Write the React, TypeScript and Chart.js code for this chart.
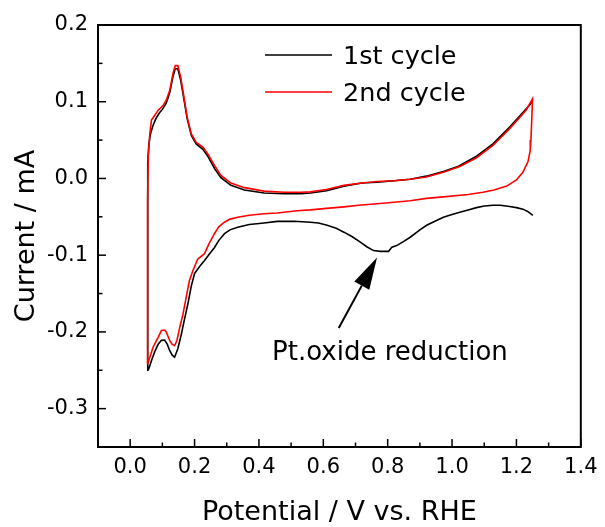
import React, { useEffect, useRef } from "react";
import { Chart, registerables } from "chart.js";

Chart.register(...registerables);

// 1st cycle: cathodic sweep from 1.25 V down to 0.05 V, then anodic sweep back up
const cycle1Potential = [
  1.251, 1.235, 1.22, 1.2, 1.179, 1.15, 1.127, 1.1, 1.076, 1.05,
  1.024, 1.0, 0.973, 0.95, 0.921, 0.9, 0.87, 0.85, 0.828, 0.813,
  0.803, 0.79, 0.777, 0.756, 0.735, 0.715, 0.69, 0.664, 0.64, 0.612,
  0.585, 0.56, 0.509, 0.457, 0.416, 0.37, 0.334, 0.31, 0.293, 0.275,
  0.262, 0.245, 0.231, 0.215, 0.2, 0.19, 0.179, 0.168, 0.159, 0.148,
  0.138, 0.13, 0.123, 0.115, 0.107, 0.097, 0.087, 0.076, 0.066, 0.058,
  0.055,
  0.054, 0.055, 0.058, 0.063, 0.07, 0.08, 0.09, 0.1, 0.112, 0.123,
  0.133, 0.14, 0.148, 0.157, 0.167, 0.177, 0.19, 0.205, 0.226, 0.241,
  0.262, 0.282, 0.313, 0.355, 0.416, 0.478, 0.53, 0.56, 0.61, 0.664,
  0.72, 0.767, 0.82, 0.87, 0.92, 0.973, 1.02, 1.076, 1.127, 1.179,
  1.22, 1.25,
];
const cycle1Current = [
  -0.048, -0.043, -0.04, -0.038, -0.0365, -0.035, -0.035, -0.036, -0.038, -0.041,
  -0.044, -0.047, -0.0505, -0.055, -0.061, -0.067, -0.0766, -0.082, -0.0875, -0.0895,
  -0.095, -0.095, -0.095, -0.094, -0.089, -0.083, -0.076, -0.07, -0.065, -0.061,
  -0.058, -0.057, -0.0557, -0.056, -0.058, -0.06, -0.0635, -0.067, -0.072, -0.081,
  -0.09, -0.099, -0.107, -0.115, -0.124, -0.14, -0.164, -0.185, -0.203, -0.222,
  -0.233, -0.23, -0.2245, -0.216, -0.2106, -0.211, -0.216, -0.226, -0.2375, -0.248,
  -0.25,
  -0.03, 0.02, 0.045, 0.058, 0.068, 0.078, 0.085, 0.09, 0.098, 0.112,
  0.133, 0.143, 0.143, 0.128, 0.103, 0.078, 0.056, 0.045, 0.038, 0.029,
  0.013, 0.001, -0.009, -0.015, -0.019, -0.02, -0.02, -0.019, -0.016, -0.01,
  -0.006, -0.005, -0.003, -0.001, 0.003, 0.009, 0.016, 0.029, 0.045, 0.067,
  0.086, 0.1,
];

// 2nd cycle: anodic sweep from 0.05 V up to 1.25 V, then cathodic sweep back down
const cycle2Potential = [
  0.054, 0.054, 0.056, 0.061, 0.066, 0.076, 0.087, 0.102, 0.112, 0.123,
  0.133, 0.14, 0.148, 0.157, 0.167, 0.177, 0.19, 0.205, 0.226, 0.241,
  0.262, 0.282, 0.313, 0.355, 0.416, 0.478, 0.53, 0.56, 0.61, 0.664,
  0.72, 0.767, 0.82, 0.87, 0.92, 0.973, 1.024, 1.076, 1.127, 1.179,
  1.23, 1.25,
  1.248, 1.245, 1.243, 1.236, 1.22, 1.2, 1.17, 1.13, 1.096, 1.05,
  0.973, 0.92, 0.87, 0.82, 0.767, 0.71, 0.664, 0.61, 0.56, 0.519,
  0.457, 0.416, 0.37, 0.334, 0.31, 0.293, 0.275, 0.262, 0.245, 0.231,
  0.21, 0.195, 0.184, 0.174, 0.164, 0.154, 0.145, 0.138, 0.13, 0.123,
  0.112, 0.107, 0.097, 0.087, 0.071, 0.061, 0.056, 0.053,
];
const cycle2Current = [
  -0.242, -0.03, 0.028, 0.058, 0.076, 0.082, 0.089, 0.095, 0.102, 0.115,
  0.137, 0.147, 0.147, 0.132, 0.106, 0.08, 0.058, 0.047, 0.041, 0.032,
  0.017, 0.004, -0.006, -0.012, -0.0165, -0.018, -0.018, -0.0175, -0.0145, -0.009,
  -0.006, -0.004, -0.003, -0.001, 0.002, 0.008, 0.0157, 0.027, 0.043, 0.065,
  0.089, 0.104,
  0.08, 0.05, 0.037, 0.022, 0.008, -0.002, -0.01, -0.015, -0.018, -0.021,
  -0.024, -0.026, -0.029, -0.031, -0.033, -0.035, -0.037, -0.039, -0.041, -0.042,
  -0.045, -0.046, -0.048, -0.0505, -0.053, -0.057, -0.063, -0.072, -0.085, -0.098,
  -0.105, -0.12, -0.133, -0.155, -0.177, -0.194, -0.2115, -0.218, -0.216, -0.2115,
  -0.2, -0.1975, -0.198, -0.207, -0.22, -0.233, -0.24, -0.242,
];

const seriesLabels = ["1st cycle", "2nd cycle"];
const seriesColors = ["#000000", "#ff0000"];

const xTickValues = [0, 0.2, 0.4, 0.6, 0.8, 1.0, 1.2, 1.4];
const xMinorTickValues = [0.1, 0.3, 0.5, 0.7, 0.9, 1.1, 1.3];
const yTickValues = [-0.3, -0.2, -0.1, 0, 0.1, 0.2];
const yMinorTickValues = [-0.25, -0.15, -0.05, 0.05, 0.15];

const annotationText = "Pt.oxide reduction";
const annotationTextAt = [0.807, -0.236];
const annotationArrowTail = [0.648, -0.195];
const annotationArrowTip = [0.767, -0.103];

const FONT = "'DejaVu Sans', sans-serif";

const toPoints = (xs: number[], ys: number[]) => xs.map((x, i) => ({ x, y: ys[i] }));

const decorPlugin = {
  id: "decor",
  beforeDraw(chart: any) {
    const { ctx, width, height } = chart;
    ctx.save();
    ctx.fillStyle = "#ffffff";
    ctx.fillRect(0, 0, width, height);
    ctx.restore();
  },
  afterDatasetsDraw(chart: any) {
    const { ctx, chartArea: a, scales } = chart;
    const xs = scales.x;
    const ys = scales.y;
    ctx.save();

    // legend
    ctx.font = `25.5px ${FONT}`;
    ctx.textBaseline = "alphabetic";
    ctx.textAlign = "left";
    seriesLabels.forEach((label, i) => {
      const ly = a.top + 30 + i * 37;
      ctx.strokeStyle = seriesColors[i];
      ctx.lineWidth = 1.5;
      ctx.beginPath();
      ctx.moveTo(a.left + 167, ly);
      ctx.lineTo(a.left + 234, ly);
      ctx.stroke();
      ctx.fillStyle = "#000";
      ctx.fillText(label, a.left + 245, ly + 9.3);
    });

    // annotation arrow
    const tx = xs.getPixelForValue(annotationArrowTail[0]);
    const ty = ys.getPixelForValue(annotationArrowTail[1]);
    const hx = xs.getPixelForValue(annotationArrowTip[0]);
    const hy = ys.getPixelForValue(annotationArrowTip[1]);
    const ang = Math.atan2(hy - ty, hx - tx);
    const headLen = 32;
    const headHalf = 8.5;
    const bx = hx - headLen * Math.cos(ang);
    const by = hy - headLen * Math.sin(ang);
    ctx.strokeStyle = "#000";
    ctx.lineWidth = 2;
    ctx.beginPath();
    ctx.moveTo(tx, ty);
    ctx.lineTo(bx, by);
    ctx.stroke();
    ctx.fillStyle = "#000";
    ctx.beginPath();
    ctx.moveTo(hx, hy);
    ctx.lineTo(bx + headHalf * Math.sin(ang), by - headHalf * Math.cos(ang));
    ctx.lineTo(bx - headHalf * Math.sin(ang), by + headHalf * Math.cos(ang));
    ctx.closePath();
    ctx.fill();

    ctx.font = `26px ${FONT}`;
    ctx.textAlign = "center";
    ctx.textBaseline = "alphabetic";
    ctx.fillText(
      annotationText,
      xs.getPixelForValue(annotationTextAt[0]),
      ys.getPixelForValue(annotationTextAt[1])
    );
    ctx.restore();
  },
  afterDraw(chart: any) {
    const { ctx, chartArea: a, scales } = chart;
    const xs = scales.x;
    const ys = scales.y;
    ctx.save();
    ctx.strokeStyle = "#000";
    ctx.lineWidth = 1.5;
    const line = (x1: number, y1: number, x2: number, y2: number) => {
      ctx.beginPath();
      ctx.moveTo(x1, y1);
      ctx.lineTo(x2, y2);
      ctx.stroke();
    };
    xTickValues.forEach((v) => {
      const p = xs.getPixelForValue(v);
      line(p, a.bottom, p, a.bottom - 8);
    });
    xMinorTickValues.forEach((v) => {
      const p = xs.getPixelForValue(v);
      line(p, a.bottom, p, a.bottom - 4.5);
    });
    yTickValues.forEach((v) => {
      const p = ys.getPixelForValue(v);
      line(a.left, p, a.left + 8, p);
    });
    yMinorTickValues.forEach((v) => {
      const p = ys.getPixelForValue(v);
      line(a.left, p, a.left + 4.5, p);
    });
    ctx.lineWidth = 2;
    ctx.strokeRect(a.left, a.top, a.right - a.left, a.bottom - a.top);
    ctx.restore();
  },
};

export default function App() {
  const canvasRef = useRef<HTMLCanvasElement | null>(null);

  useEffect(() => {
    const canvas = canvasRef.current;
    if (!canvas) return;
    document.body.style.margin = "0";
    const chart = new Chart(canvas, {
      type: "scatter",
      data: {
        datasets: [
          {
            label: seriesLabels[0],
            data: toPoints(cycle1Potential, cycle1Current),
            showLine: true,
            borderColor: seriesColors[0],
            backgroundColor: seriesColors[0],
            borderWidth: 1.6,
            pointRadius: 0,
            tension: 0,
            order: 1,
          },
          {
            label: seriesLabels[1],
            data: toPoints(cycle2Potential, cycle2Current),
            showLine: true,
            borderColor: seriesColors[1],
            backgroundColor: seriesColors[1],
            borderWidth: 1.6,
            pointRadius: 0,
            tension: 0,
            order: 0,
          },
        ],
      },
      options: {
        responsive: false,
        animation: false,
        devicePixelRatio: 1,
        layout: { padding: { left: 0, top: 25, right: 19, bottom: 0 } },
        plugins: {
          legend: { display: false },
          tooltip: { enabled: false },
        },
        scales: {
          x: {
            type: "linear",
            min: -0.1,
            max: 1.4,
            afterBuildTicks: (s: any) => {
              s.ticks = xTickValues.map((v) => ({ value: v }));
            },
            afterFit: (s: any) => {
              s.height = 80;
            },
            grid: { display: false, drawTicks: false },
            border: { display: false },
            ticks: {
              autoSkip: false,
              maxRotation: 0,
              padding: 7.5,
              color: "#000",
              font: { family: FONT, size: 21 },
              callback: (v: any) => Number(v).toFixed(1),
            },
            title: {
              display: true,
              text: "Potential / V vs. RHE",
              color: "#000",
              font: { family: FONT, size: 27 },
              padding: { top: 0, bottom: -2 },
            },
          },
          y: {
            type: "linear",
            min: -0.35,
            max: 0.2,
            afterBuildTicks: (s: any) => {
              s.ticks = yTickValues.map((v) => ({ value: v }));
            },
            afterFit: (s: any) => {
              s.width = 98;
            },
            grid: { display: false, drawTicks: false },
            border: { display: false },
            ticks: {
              autoSkip: false,
              padding: 10,
              color: "#000",
              font: { family: FONT, size: 21 },
              callback: (v: any) => Number(v).toFixed(1),
            },
            title: {
              display: true,
              text: "Current / mA",
              color: "#000",
              font: { family: FONT, size: 27 },
              padding: { top: 10.5, bottom: 0 },
            },
          },
        },
      },
      plugins: [decorPlugin],
    });
    return () => chart.destroy();
  }, []);

  return (
    <div style={{ position: "absolute", left: 0, top: 0, width: 605, height: 527, background: "#fff" }}>
      <canvas ref={canvasRef} width={605} height={527} style={{ display: "block" }} />
    </div>
  );
}
